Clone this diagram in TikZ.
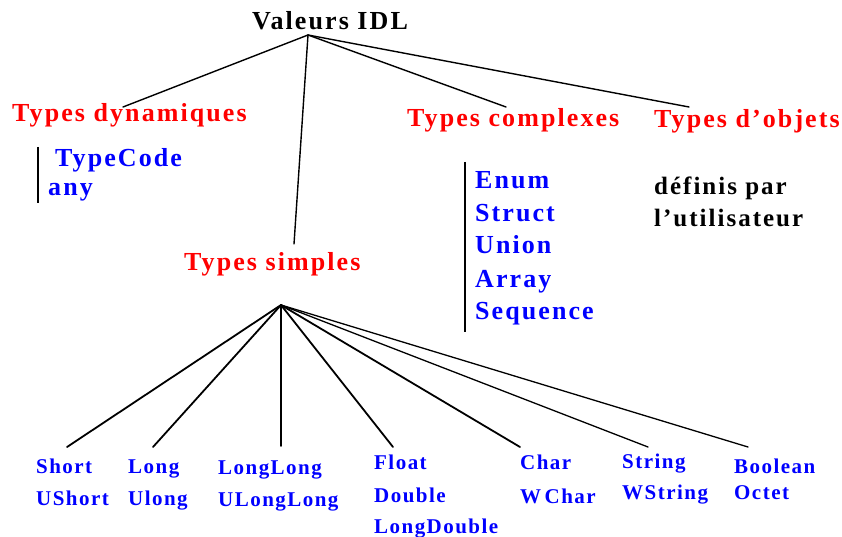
\documentclass[tikz,border=0pt]{standalone}
\usepackage{fontspec}
\setmainfont{Liberation Serif}
% tracked bold serif faces for the labels
\newfontfamily\spacedfont{Liberation Serif}[LetterSpace=8]
\newfontfamily\spacedsmall{Liberation Serif}[LetterSpace=7]
\definecolor{headred}{RGB}{255,0,0}
\definecolor{itemblue}{RGB}{0,0,255}
\begin{document}
\begin{tikzpicture}[x=1pt,y=-1pt,
  every node/.style={inner sep=0pt, anchor=base west},
  rootlabel/.style={font=\spacedfont\bfseries\fontsize{26}{30}\selectfont, text=black, anchor=base},
  head/.style={font=\spacedfont\bfseries\fontsize{26}{30}\selectfont, text=headred},
  item/.style={font=\spacedfont\bfseries\fontsize{26}{30}\selectfont, text=itemblue},
  note/.style={font=\spacedfont\bfseries\fontsize{25}{30}\selectfont, text=black},
  leaf/.style={font=\spacedsmall\bfseries\fontsize{21}{25}\selectfont, text=itemblue},
  branch/.style={line width=1.4pt, line cap=round},
  thickbranch/.style={line width=1.8pt, line cap=round},
  thinbranch/.style={line width=1.3pt, line cap=round},
  bar/.style={line width=2.6pt}]
\useasboundingbox (0,0) rectangle (842,537);

% root and the four families
\node[rootlabel] (root) at (330,29.3) {Valeurs IDL};
\node[head] (dyn) at (12,121.7) {Types dynamiques};
\node[head] (cplx) at (407,126.7) {Types complexes};
\node[head] (obj) at (654,128) {Types d’objets};
\node[head] (simple) at (184,270) {Types simples};

% dynamic types
\node[item] (typecode) at (55,166.7) {TypeCode};
\node[item] (any) at (48,196) {any};
\coordinate (dynbar-top) at (38,147);
\coordinate (dynbar-bot) at (38,203);
\draw[bar] (dynbar-top) -- (dynbar-bot);

% complex types
\node[item] (enum) at (475,188.3) {Enum};
\node[item] (struct) at (475,221.7) {Struct};
\node[item] (union) at (475,253.8) {Union};
\node[item] (array) at (475,287.5) {Array};
\node[item] (sequence) at (475,319.3) {Sequence};
\coordinate (cplxbar-top) at (465,162);
\coordinate (cplxbar-bot) at (465,332);
\draw[bar] (cplxbar-top) -- (cplxbar-bot);

% object types
\node[note] (defby) at (654,195) {définis par};
\node[note] (user) at (654,226) {l’utilisateur};

% simple types
\node[leaf] (short) at (36,473) {Short};
\node[leaf] (ushort) at (36,505) {UShort};
\node[leaf] (long) at (128,473) {Long};
\node[leaf] (ulong) at (128,505) {Ulong};
\node[leaf] (longlong) at (218,474) {LongLong};
\node[leaf] (ulonglong) at (218,506) {ULongLong};
\node[leaf] (float) at (374,469.3) {Float};
\node[leaf] (double) at (374,502.7) {Double};
\node[leaf] (longdouble) at (374,533) {LongDouble};
\node[leaf] (char) at (520,469.3) {Char};
\node[leaf] (wchar) at (520,503.3) {W\,Char};
\node[leaf] (string) at (622,468.3) {String};
\node[leaf] (wstring) at (622,499.3) {WString};
\node[leaf] (boolean) at (734,473.3) {Boolean};
\node[leaf] (octet) at (734,499.3) {Octet};

% branch points
\coordinate (root-hub) at (308,35);
\coordinate (dyn-top) at (123,107);
\coordinate (simple-top) at (294,244);
\coordinate (cplx-top) at (506,107);
\coordinate (obj-top) at (689,107);
\coordinate (simple-hub) at (281,305);
\coordinate (short-top) at (67,447);
\coordinate (long-top) at (153,447);
\coordinate (longlong-top) at (281,446);
\coordinate (float-top) at (393,447);
\coordinate (char-top) at (520,447);
\coordinate (string-top) at (648,447);
\coordinate (boolean-top) at (748,447);

\draw[branch] (root-hub) -- (dyn-top);
\draw[branch] (root-hub) -- (simple-top);
\draw[branch] (root-hub) -- (cplx-top);
\draw[branch] (root-hub) -- (obj-top);

\draw[thickbranch] (simple-hub) -- (short-top);
\draw[thickbranch] (simple-hub) -- (long-top);
\draw[thickbranch] (simple-hub) -- (longlong-top);
\draw[thickbranch] (simple-hub) -- (float-top);
\draw[thickbranch] (simple-hub) -- (char-top);
\draw[thinbranch] (simple-hub) -- (string-top);
\draw[thinbranch] (simple-hub) -- (boolean-top);
\end{tikzpicture}
\end{document}
